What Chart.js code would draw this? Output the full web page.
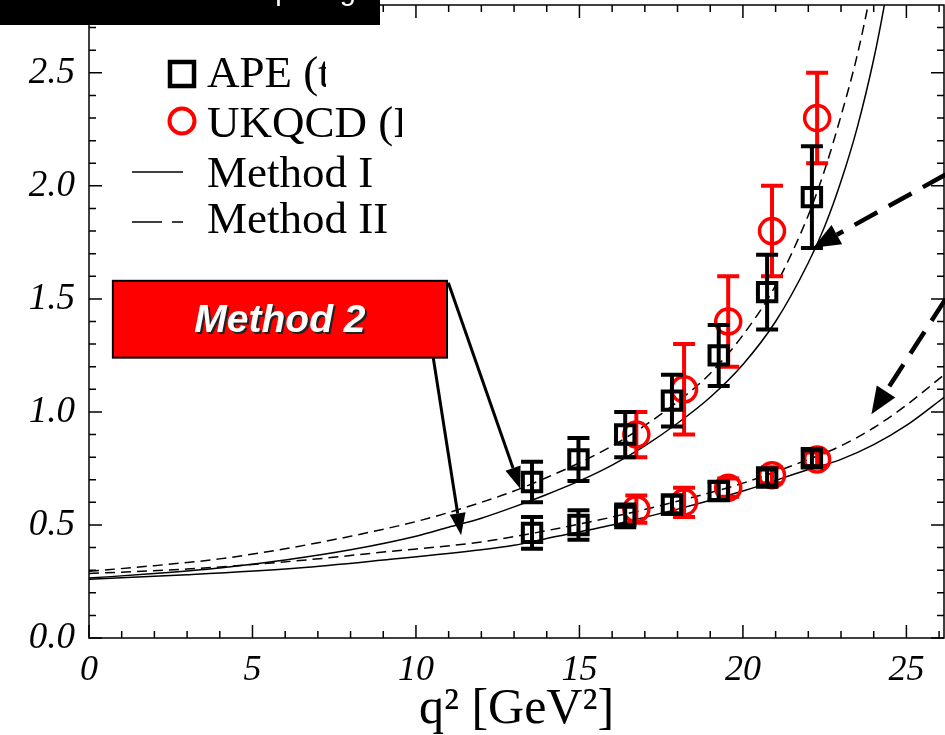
<!DOCTYPE html>
<html lang="en">
<head>
<meta charset="UTF-8">
<title>Form factors vs q2</title>
<script src="https://cdn.jsdelivr.net/npm/chart.js"></script>
<style>
  html, body { margin: 0; padding: 0; background: #fff; }
  .wrap { width: 945px; height: 735px; position: relative; }
</style>
</head>
<body>
<div class="wrap"><canvas id="ffChart"></canvas></div>
<script>
// lattice points, q^2 in GeV^2
const apeQ2 = [13.55, 14.97, 16.4, 17.83, 19.26, 20.74, 22.11];
const apeUpper = [0.69, 0.79, 0.90, 1.05, 1.25, 1.53, 1.95];
const apeUpperErr = [0.09, 0.095, 0.10, 0.115, 0.135, 0.165, 0.225];
const apeLower = [0.465, 0.50, 0.54, 0.59, 0.65, 0.71, 0.795];
const apeLowerErr = [0.07, 0.065, 0.05, 0.04, 0.04, 0.035, 0.035];

const ukqcdQ2 = [16.74, 18.2, 19.55, 20.89, 22.27];
const ukqcdUpper = [0.90, 1.10, 1.40, 1.80, 2.30];
const ukqcdUpperErr = [0.10, 0.20, 0.20, 0.20, 0.20];
const ukqcdLower = [0.57, 0.60, 0.665, 0.72, 0.79];
const ukqcdLowerErr = [0.06, 0.065, 0.04, 0.035, 0.03];

// fitted curves
const m1UpperQ2 = [0, 2, 4, 6, 8, 10, 11, 12, 13, 14, 15, 16, 17, 18, 19, 20, 21, 22, 22.5, 23, 23.5, 24, 24.3, 24.5];
const m1Upper = [0.265, 0.285, 0.31, 0.345, 0.39, 0.45, 0.49, 0.53, 0.58, 0.635, 0.695, 0.765, 0.85, 0.95, 1.065, 1.21, 1.40, 1.66, 1.82, 2.02, 2.26, 2.56, 2.78, 2.95];
const m2UpperQ2 = [0, 2, 4, 6, 8, 10, 11, 12, 13, 14, 15, 16, 17, 18, 19, 20, 21, 22, 22.5, 23, 23.5, 23.9, 24.1];
const m2Upper = [0.295, 0.32, 0.35, 0.395, 0.45, 0.515, 0.555, 0.60, 0.65, 0.71, 0.775, 0.85, 0.94, 1.045, 1.17, 1.34, 1.56, 1.87, 2.07, 2.31, 2.58, 2.85, 3.0];
const m1LowerQ2 = [0, 3, 6.4, 9, 12, 13, 14, 16, 18, 20, 22, 23, 24, 25, 26.2];
const m1Lower = [0.26, 0.28, 0.31, 0.345, 0.39, 0.41, 0.44, 0.50, 0.57, 0.65, 0.745, 0.79, 0.855, 0.94, 1.07];
const m2LowerQ2 = [0, 3, 6.25, 9, 12, 14, 16, 18, 20, 22, 23, 24, 25, 26.2];
const m2Lower = [0.285, 0.305, 0.34, 0.38, 0.425, 0.475, 0.535, 0.605, 0.685, 0.79, 0.85, 0.93, 1.03, 1.17];

const xTicks = [0, 5, 10, 15, 20, 25];
const yTicks = [0.0, 0.5, 1.0, 1.5, 2.0, 2.5];

const xy = (xs, ys) => xs.map((x, i) => ({ x: x, y: ys[i] }));

const serif = '"Liberation Serif", "Times New Roman", serif';

// error bars, drawn right after their own dataset
const errorBars = {
  id: 'errorBars',
  afterDatasetDraw(chart, args) {
    const ds = chart.data.datasets[args.index];
    if (!ds.errors) return;
    const { ctx } = chart;
    const x = chart.scales.x, y = chart.scales.y;
    ctx.save();
    ctx.strokeStyle = ds.borderColor;
    ctx.lineWidth = 4;
    ds.data.forEach((p, i) => {
      const px = x.getPixelForValue(p.x);
      const top = y.getPixelForValue(p.y + ds.errors[i]);
      const bot = y.getPixelForValue(p.y - ds.errors[i]);
      ctx.beginPath();
      ctx.moveTo(px, top); ctx.lineTo(px, bot);
      ctx.moveTo(px - 11, top); ctx.lineTo(px + 11, top);
      ctx.moveTo(px - 11, bot); ctx.lineTo(px + 11, bot);
      ctx.stroke();
    });
    ctx.restore();
  }
};

// box frame with inward ticks on all four sides
const frame = {
  id: 'frame',
  afterDatasetsDraw(chart) {
    const { ctx, chartArea: a } = chart;
    const x = chart.scales.x, y = chart.scales.y;
    ctx.save();
    ctx.strokeStyle = '#000';
    ctx.lineWidth = 1.5;
    ctx.strokeRect(a.left, a.top, a.right - a.left, a.bottom - a.top);
    ctx.beginPath();
    for (let v = 0; v <= 26; v++) {
      const px = x.getPixelForValue(v);
      const len = v % 5 === 0 ? 13 : 7;
      ctx.moveTo(px, a.bottom); ctx.lineTo(px, a.bottom - len);
      ctx.moveTo(px, a.top); ctx.lineTo(px, a.top + len);
    }
    for (let k = 0; k <= 27; k++) {
      const py = y.getPixelForValue(k / 10);
      const len = k % 5 === 0 ? 13 : 7;
      ctx.moveTo(a.left, py); ctx.lineTo(a.left + len, py);
      ctx.moveTo(a.right, py); ctx.lineTo(a.right - len, py);
    }
    ctx.stroke();
    ctx.restore();
  }
};

function arrow(ctx, x1, y1, x2, y2, opt) {
  const ang = Math.atan2(y2 - y1, x2 - x1);
  const bx = x2 - opt.head * Math.cos(ang);
  const by = y2 - opt.head * Math.sin(ang);
  ctx.save();
  ctx.strokeStyle = '#000';
  ctx.fillStyle = '#000';
  ctx.lineWidth = opt.width;
  ctx.setLineDash(opt.dash || []);
  ctx.beginPath();
  ctx.moveTo(x1, y1); ctx.lineTo(bx, by);
  ctx.stroke();
  ctx.setLineDash([]);
  const nx = -Math.sin(ang) * opt.half, ny = Math.cos(ang) * opt.half;
  ctx.beginPath();
  ctx.moveTo(x2, y2);
  ctx.lineTo(bx + nx, by + ny);
  ctx.lineTo(bx - nx, by - ny);
  ctx.closePath();
  ctx.fill();
  ctx.restore();
}

// annotation positions in data units (q^2, value)
const noteBox = { x0: 0.73, x1: 10.95, yTop: 1.58, yBot: 1.24 };
const solidArrows = [[10.99, 1.571, 13.19, 0.66], [10.53, 1.239, 11.38, 0.455]];
const dashArrows = [[26.2, 2.05, 22.15, 1.726], [26.2, 1.50, 23.93, 0.99]];

const overlay = {
  id: 'overlay',
  afterDraw(chart) {
    const { ctx } = chart;
    const x = chart.scales.x, y = chart.scales.y;

    // legend
    ctx.save();
    ctx.fillStyle = '#000';
    ctx.font = '45px ' + serif;
    ctx.textBaseline = 'alphabetic';
    ctx.strokeStyle = '#000';
    ctx.lineWidth = 4.5;
    ctx.strokeRect(170, 62, 24, 24);
    ctx.save();
    ctx.beginPath(); ctx.rect(0, 0, 326, 735); ctx.clip();
    ctx.fillText('APE (t', 207, 87);
    ctx.restore();
    ctx.strokeStyle = '#ff0000';
    ctx.lineWidth = 4;
    ctx.beginPath(); ctx.arc(182, 121, 12.5, 0, Math.PI * 2); ctx.stroke();
    ctx.save();
    ctx.beginPath(); ctx.rect(0, 0, 402, 735); ctx.clip();
    ctx.fillText('UKQCD (I', 207, 137);
    ctx.restore();
    ctx.strokeStyle = '#000';
    ctx.lineWidth = 1.5;
    ctx.beginPath(); ctx.moveTo(132, 172); ctx.lineTo(183, 172); ctx.stroke();
    ctx.fillText('Method I', 207, 187);
    ctx.beginPath();
    ctx.moveTo(132, 222); ctx.lineTo(162, 222);
    ctx.moveTo(172, 222); ctx.lineTo(183, 222);
    ctx.stroke();
    ctx.fillText('Method II', 207, 233);
    ctx.restore();

    // red note box
    const bl = x.getPixelForValue(noteBox.x0), br = x.getPixelForValue(noteBox.x1);
    const bt = y.getPixelForValue(noteBox.yTop), bb = y.getPixelForValue(noteBox.yBot);
    ctx.save();
    ctx.fillStyle = '#ff0000';
    ctx.fillRect(bl, bt, br - bl, bb - bt);
    ctx.strokeStyle = '#000';
    ctx.lineWidth = 2;
    ctx.strokeRect(bl, bt, br - bl, bb - bt);
    ctx.font = 'italic bold 39px "Liberation Sans", Arial, sans-serif';
    ctx.textAlign = 'center';
    ctx.textBaseline = 'alphabetic';
    const mid = (bt + bb) / 2 + 13;
    ctx.fillStyle = '#222';
    ctx.fillText('Method 2', (bl + br) / 2 + 2, mid + 2);
    ctx.fillStyle = '#fff';
    ctx.fillText('Method 2', (bl + br) / 2, mid);
    ctx.restore();

    solidArrows.forEach(a => arrow(ctx,
      x.getPixelForValue(a[0]), y.getPixelForValue(a[1]),
      x.getPixelForValue(a[2]), y.getPixelForValue(a[3]),
      { width: 3, head: 22, half: 8 }));
    dashArrows.forEach(a => arrow(ctx,
      x.getPixelForValue(a[0]), y.getPixelForValue(a[1]),
      x.getPixelForValue(a[2]), y.getPixelForValue(a[3]),
      { width: 4.5, head: 27, half: 11, dash: [26, 13] }));

    // black title strip, mostly cut off at the top
    ctx.save();
    ctx.fillStyle = '#000';
    ctx.fillRect(0, 0, 380, 25);
    ctx.fillStyle = '#fff';
    ctx.font = '29px "Liberation Sans", Arial, sans-serif';
    ctx.textBaseline = 'alphabetic';
    ctx.fillText('Comparing', 214, 0);
    ctx.restore();
  }
};

new Chart(document.getElementById('ffChart'), {
  type: 'line',
  data: {
    datasets: [
      { label: 'APE', data: xy(apeQ2, apeUpper), errors: apeUpperErr, showLine: false,
        pointStyle: 'rect', pointRadius: 13, borderWidth: 4, borderColor: '#000', backgroundColor: 'rgba(0,0,0,0)' },
      { label: 'APE', data: xy(apeQ2, apeLower), errors: apeLowerErr, showLine: false,
        pointStyle: 'rect', pointRadius: 13, borderWidth: 4, borderColor: '#000', backgroundColor: 'rgba(0,0,0,0)' },
      { label: 'UKQCD', data: xy(ukqcdQ2, ukqcdUpper), errors: ukqcdUpperErr, showLine: false,
        pointStyle: 'circle', pointRadius: 12.5, borderWidth: 3.5, borderColor: '#ff0000', backgroundColor: 'rgba(0,0,0,0)' },
      { label: 'UKQCD', data: xy(ukqcdQ2, ukqcdLower), errors: ukqcdLowerErr, showLine: false,
        pointStyle: 'circle', pointRadius: 12.5, borderWidth: 3.5, borderColor: '#ff0000', backgroundColor: 'rgba(0,0,0,0)' },
      { label: 'Method I', data: xy(m1UpperQ2, m1Upper), borderColor: '#000', borderWidth: 1.5,
        pointRadius: 0, cubicInterpolationMode: 'monotone' },
      { label: 'Method II', data: xy(m2UpperQ2, m2Upper), borderColor: '#000', borderWidth: 1.5,
        borderDash: [10, 6], pointRadius: 0, cubicInterpolationMode: 'monotone' },
      { label: 'Method I', data: xy(m1LowerQ2, m1Lower), borderColor: '#000', borderWidth: 1.5,
        pointRadius: 0, cubicInterpolationMode: 'monotone' },
      { label: 'Method II', data: xy(m2LowerQ2, m2Lower), borderColor: '#000', borderWidth: 1.5,
        borderDash: [10, 6], pointRadius: 0, cubicInterpolationMode: 'monotone' }
    ]
  },
  options: {
    responsive: true,
    maintainAspectRatio: false,
    animation: false,
    events: [],
    layout: { autoPadding: false, padding: { top: 5, right: 1, left: 0, bottom: 0 } },
    plugins: { legend: { display: false }, tooltip: { enabled: false } },
    scales: {
      x: {
        type: 'linear', min: 0, max: 26.15,
        grid: { display: false, drawTicks: false },
        border: { display: false },
        afterBuildTicks: s => { s.ticks = xTicks.map(v => ({ value: v })); },
        afterFit: s => { s.height = 97; s.paddingLeft = 0; s.paddingRight = 0; },
        ticks: { color: '#000', padding: 11, maxRotation: 0,
          font: { family: serif, style: 'italic', size: 36 } },
        title: { display: true, text: 'q² [GeV²]', color: '#000', padding: 0,
          font: { family: serif, size: 50, lineHeight: 1 } }
      },
      y: {
        type: 'linear', min: 0, max: 2.8,
        grid: { display: false, drawTicks: false },
        border: { display: false },
        afterBuildTicks: s => { s.ticks = yTicks.map(v => ({ value: v })); },
        afterFit: s => { s.width = 89; s.paddingTop = 0; s.paddingBottom = 0; },
        ticks: { color: '#000', padding: 14, callback: v => v.toFixed(1),
          font: { family: serif, style: 'italic', size: 37 } }
      }
    }
  },
  plugins: [errorBars, frame, overlay]
});
</script>
</body>
</html>
